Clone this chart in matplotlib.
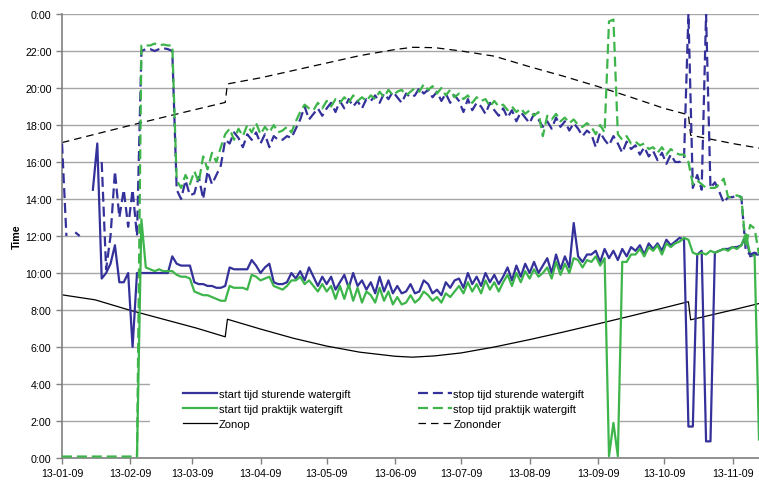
import numpy as np
import pandas as pd
import matplotlib
matplotlib.use('Agg')
import matplotlib.pyplot as plt
import matplotlib.dates as mdates
from matplotlib.patches import Rectangle

plt.rcParams['font.family'] = ['Liberation Sans', 'DejaVu Sans']

nan = np.nan

# one value every 2 days from 13-01-09
days = pd.date_range('2009-01-13', periods=159, freq='2D')

# start tijd sturende watergift (hours)
start_sturend = [
    nan, nan, nan, nan, nan, nan, nan, 14.5, 17.0, 9.7,
    10.0, 10.5, 11.5, 9.5, 9.5, 10.0, 6.0, 10.0, 10.0, 10.0,
    10.0, 10.0, 10.0, 10.0, 10.0, 10.9, 10.5, 10.4, 10.4, 10.4,
    9.5, 9.4, 9.4, 9.3, 9.3, 9.2, 9.2, 9.3, 10.3, 10.2,
    10.2, 10.2, 10.2, 10.7, 10.4, 10.0, 10.3, 10.5, 9.5, 9.4,
    9.4, 9.5, 10.0, 9.7, 10.1, 9.6, 10.3, 9.8, 9.3, 9.8,
    9.4, 9.8, 9.1, 9.5, 9.9, 9.2, 10.0, 9.3, 9.6, 9.1,
    9.5, 8.9, 9.8, 9.0, 9.6, 8.9, 9.3, 8.9, 9.0, 9.4,
    8.9, 9.0, 9.6, 9.4, 8.9, 9.1, 8.8, 9.5, 9.2, 9.6,
    9.7, 9.2, 10.0, 9.4, 9.8, 9.3, 10.0, 9.5, 9.9, 9.4,
    9.8, 10.3, 9.6, 10.4, 9.8, 10.5, 10.0, 10.6, 10.0, 10.4,
    10.8, 10.0, 11.0, 10.2, 10.9, 10.3, 12.7, 10.9, 10.6, 11.0,
    11.0, 11.2, 10.6, 11.3, 10.8, 11.2, 10.7, 11.3, 10.9, 11.4,
    11.2, 11.5, 11.0, 11.6, 11.3, 11.6, 11.2, 11.8, 11.5, 11.7,
    11.9, 11.8, 1.7, 1.7, 11.0, 11.2, 0.9, 0.9, 11.1, 11.2,
    11.3, 11.3, 11.4, 11.4, 11.5, 12.0, 10.9, 11.0, 11.0,
]

# start tijd praktijk watergift
start_praktijk = [
    nan, nan, nan, nan, nan, nan, nan, nan, nan, nan,
    nan, nan, nan, nan, nan, nan, nan, 0.1, 12.9, 10.3,
    10.2, 10.1, 10.2, 10.1, 10.1, 10.1, 9.9, 9.8, 9.8, 9.7,
    9.0, 8.9, 8.8, 8.8, 8.7, 8.6, 8.5, 8.5, 9.3, 9.2,
    9.2, 9.2, 9.1, 9.9, 9.8, 9.6, 9.7, 9.8, 9.3, 9.2,
    9.1, 9.3, 9.6, 9.6, 9.8, 9.4, 9.6, 9.3, 9.0, 9.4,
    9.0, 9.3, 8.6, 9.3, 8.6, 9.4, 8.5, 9.2, 8.4, 9.0,
    8.8, 8.4, 9.2, 8.5, 9.0, 8.3, 8.7, 8.3, 8.4, 8.8,
    8.4, 8.6, 9.0, 8.8, 8.5, 8.7, 8.4, 8.9, 8.7, 9.0,
    9.3, 8.9, 9.5, 9.0, 9.4, 8.9, 9.6, 9.1, 9.5, 9.0,
    9.5, 9.9, 9.3, 10.0, 9.5, 10.1, 9.7, 10.2, 9.8, 10.0,
    10.3, 9.7, 10.6, 9.9, 10.5, 10.0, 10.8, 10.7, 10.3, 10.7,
    10.6, 10.9, 10.4, 10.8, 0.1, 1.9, 0.1, 10.6, 10.6, 11.0,
    11.0, 11.3, 10.9, 11.4, 11.2, 11.5, 11.0, 11.6, 11.4, 11.6,
    11.7, 11.9, 11.8, 11.1, 11.0, 11.1, 11.0, 11.2, 11.1, 11.2,
    11.3, 11.2, 11.4, 11.3, 11.5, 12.1, 11.0, 11.0, 1.0,
]

# stop tijd sturende watergift
stop_sturend = [
    17.0, 12.0, nan, 12.2, 12.0, nan, nan, nan, nan, 16.0,
    10.2, 12.0, 15.5, 13.0, 14.5, 12.5, 14.5, 12.0, 22.0, 22.1,
    22.1, 22.0, 22.1, 22.15, 22.1, 22.0, 14.5, 14.0, 15.0, 14.2,
    14.3, 15.2, 14.0, 15.5, 14.8, 15.3, 15.8, 17.2, 17.0, 17.6,
    17.3, 16.8, 17.5, 17.2, 17.6, 17.0, 17.5, 16.8, 17.4, 17.2,
    17.2, 17.4, 17.3, 17.8, 18.3, 19.0, 18.3, 18.6, 18.9, 18.5,
    18.9, 19.2, 18.7, 19.3, 18.9, 19.4, 19.0, 19.3, 18.9, 19.4,
    19.3, 19.6, 19.2, 19.7, 19.4, 19.8, 19.5, 19.2, 19.7, 19.5,
    19.6, 20.0, 19.7, 19.9, 19.5, 19.8, 19.3, 19.7, 19.2, 19.6,
    19.3, 18.7, 19.4, 18.8, 19.2, 19.0, 18.6, 19.2, 18.8, 18.5,
    18.9, 18.4, 18.8, 18.2, 18.7, 18.4, 18.1, 18.6, 18.3, 17.9,
    18.2, 17.8, 18.4, 17.9, 18.2, 17.7, 18.1, 17.8, 17.4, 17.7,
    17.5, 16.8, 17.6, 17.2, 16.9, 17.4, 17.0, 16.5, 17.1, 16.7,
    16.9, 16.4, 16.8, 16.3, 16.6, 16.1, 16.5, 15.9, 16.4, 16.0,
    16.0, 16.2, 24.0, 14.6, 15.3, 14.5, 24.0, 14.6, 14.9, 14.4,
    13.8, 14.1, 14.1, 14.2, 14.1, 11.2, 11.0, 11.1, 11.0,
]

# stop tijd praktijk watergift
stop_praktijk = [
    0.08, 0.08, 0.08, 0.08, 0.08, 0.08, 0.08, 0.08, 0.08, 0.08,
    0.08, 0.08, 0.08, 0.08, 0.08, 0.08, 0.08, 0.08, 22.3, 22.3,
    22.3, 22.4, 22.3, 22.35, 22.3, 22.3, 15.0, 14.6, 15.3, 14.8,
    15.5, 14.9, 16.3, 15.6, 16.5, 16.0, 16.8, 17.5, 17.8, 17.2,
    17.8, 17.4, 18.0, 17.6, 18.1, 17.5, 17.9, 17.6, 18.0, 17.6,
    17.7, 17.9, 17.6, 18.2, 18.7, 19.1, 18.9, 18.8, 19.2, 18.9,
    19.3, 19.0, 19.4, 19.2, 19.5, 19.2, 19.6, 19.3, 19.5, 19.3,
    19.6, 19.4, 19.8, 19.5, 19.9, 19.6, 19.8, 19.9, 19.6, 19.8,
    20.0, 19.8, 20.2, 19.9, 20.1, 19.7, 20.0, 19.6, 19.9, 19.5,
    19.7, 19.4, 19.6, 19.2, 19.5, 19.3, 19.4, 19.0, 19.3, 19.0,
    19.1, 18.8, 19.0, 18.7, 18.9, 18.6, 18.8, 18.5, 18.7, 17.4,
    18.5, 18.3, 18.6, 18.2, 18.4, 18.1, 18.3, 18.0, 17.9, 18.1,
    17.9, 17.5, 18.0, 17.6, 23.6, 23.7, 17.5, 17.2, 17.4, 17.0,
    17.1, 16.9, 17.0, 16.7, 16.8, 16.5, 16.8, 16.4, 16.7, 16.5,
    16.4, 16.4, 16.0, 14.8, 15.0, 14.8, 14.6, 14.6, 14.6, 14.8,
    15.1, 14.1, 14.1, 14.2, 14.1, 11.4, 12.6, 12.4, 11.0,
]

# sunrise / sunset (local time)
sun_dates = pd.to_datetime([
    '2009-01-13', '2009-01-28', '2009-02-13', '2009-02-28', '2009-03-15',
    '2009-03-28', '2009-03-29', '2009-04-13', '2009-04-28', '2009-05-13',
    '2009-05-28', '2009-06-13', '2009-06-21', '2009-07-01', '2009-07-13',
    '2009-07-28', '2009-08-13', '2009-08-28', '2009-09-13', '2009-09-28',
    '2009-10-13', '2009-10-24', '2009-10-25', '2009-11-13', '2009-11-25',
])
zonop = [8.82, 8.55, 7.98, 7.50, 7.02, 6.55, 7.50, 6.97, 6.47, 6.05,
         5.72, 5.50, 5.45, 5.52, 5.68, 6.00, 6.40, 6.80, 7.25, 7.68,
         8.12, 8.45, 7.47, 8.00, 8.35]
zononder = [17.05, 17.50, 17.98, 18.42, 18.85, 19.22, 20.22, 20.55, 20.95, 21.35,
            21.75, 22.08, 22.20, 22.18, 22.00, 21.72, 21.15, 20.65, 20.08, 19.50,
            18.90, 18.55, 17.45, 17.00, 16.75]

tick_dates = pd.to_datetime(['2009-%02d-13' % m for m in range(1, 12)])
ytick_labels = ['0:00', '2:00', '4:00', '6:00', '8:00', '10:00', '12:00',
                '14:00', '16:00', '18:00', '20:00', '22:00', '0:00']

blue = '#34319A'
green = '#3DB54A'

fig = plt.figure(figsize=(7.59, 4.81), dpi=100)
ax = fig.add_axes([62 / 759, 22 / 481, 697 / 759, 444 / 481])
ax.set_axisbelow(True)

ax.plot(sun_dates, zonop, color='black', lw=0.9, label='Zonop', zorder=2)
ax.plot(sun_dates, zononder, color='black', lw=0.9, dashes=(6, 4), label='Zononder', zorder=2)

ax.plot(days, start_sturend, color=blue, lw=1.6, zorder=3, label='start tijd sturende watergift')
ax.plot(days, start_praktijk, color=green, lw=1.6, zorder=3, label='start tijd praktijk watergift')
ax.plot(days, stop_sturend, color=blue, lw=1.6, dashes=(4.5, 2.2), zorder=3,
        label='stop tijd sturende watergift')
ax.plot(days, stop_praktijk, color=green, lw=1.6, dashes=(4.5, 2.2), zorder=3,
        label='stop tijd praktijk watergift', clip_on=False)

ax.set_ylim(0, 24)
ax.set_xlim(pd.Timestamp('2009-01-13'), pd.Timestamp('2009-11-25'))
ax.set_yticks(range(0, 25, 2))
ax.set_yticklabels(ytick_labels)
ax.set_xticks(tick_dates)
ax.xaxis.set_major_formatter(mdates.DateFormatter('%d-%m-%y'))
ax.tick_params(labelsize=7.7, colors='black', length=4, width=1)
ax.tick_params(axis='both', color='#808080')
ax.grid(axis='y', color='#A6A6A6', lw=1.0)
for s in ['top', 'right']:
    ax.spines[s].set_visible(False)
for s in ['left', 'bottom']:
    ax.spines[s].set_color('#808080')
    ax.spines[s].set_linewidth(1.2)
ax.set_ylabel('Time', fontsize=7.7, fontweight='bold', labelpad=2)

# white area behind the legend
ax.add_patch(Rectangle((0.126, 0.04), 0.675, 0.16, transform=ax.transAxes,
                       facecolor='white', edgecolor='none', zorder=1))

handles, labels = ax.get_legend_handles_labels()
order = [2, 3, 0, 4, 5, 1]
ax.legend([handles[i] for i in order], [labels[i] for i in order], ncol=2,
          loc='upper left', bbox_to_anchor=(0.1736, 0.155), frameon=False,
          fontsize=8, handlelength=3.1, handletextpad=0.1, labelspacing=0.45,
          columnspacing=6.1, borderpad=0, borderaxespad=0)

fig.savefig('out.png', dpi=100)
